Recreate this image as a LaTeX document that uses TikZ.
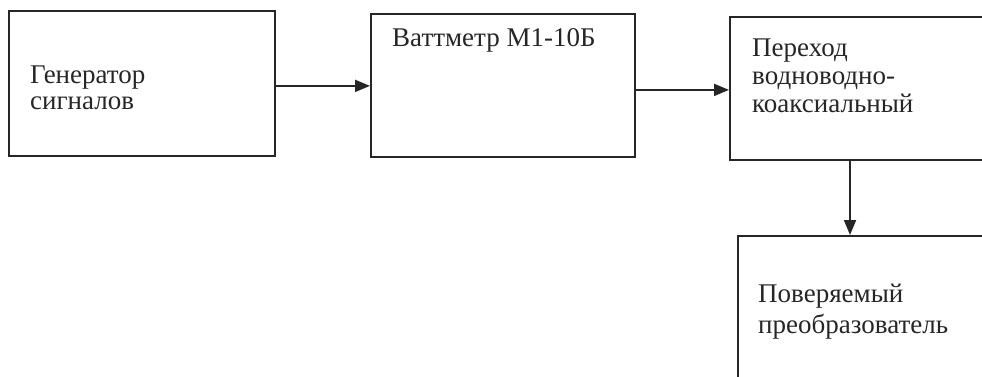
\documentclass[tikz,border=0pt]{standalone}
\usepackage{fontspec}
\setmainfont{Liberation Serif}
\usetikzlibrary{arrows.meta}
\begin{document}
\begin{tikzpicture}[x=1pt,y=-1pt,
  blk/.style={draw=black!85, line width=1.9pt, rectangle, inner sep=0pt},
  lbl/.style={anchor=base west, inner sep=0pt, align=left, font=\fontsize{27}{29}\selectfont, text=black!85},
  arr/.style={draw=black!85, line width=1.9pt, -{Triangle[length=15pt,width=12pt]}}]
\useasboundingbox (0,0) rectangle (982,377);
\clip (0,0) rectangle (982,377);
% boxes
\node[blk, minimum width=266pt, minimum height=145pt, anchor=north west] (gen) at (8,10) {};
\node[blk, minimum width=264pt, minimum height=143pt, anchor=north west] (watt) at (370,13) {};
\node[blk, minimum width=280pt, minimum height=143pt, anchor=north west] (trans) at (729,16) {};
\node[blk, minimum width=270pt, minimum height=170pt, anchor=north west] (dut) at (737,235) {};
% texts
\node[lbl] (tgen) at (30,84) {Генератор};
\node[lbl] (tgen2) at (30,110) {сигналов};
\node[lbl] (twatt) at (392,47) {Ваттметр М1-10Б};
\node[lbl] (ttr1) at (752,57) {Переход};
\node[lbl] (ttr2) at (752,85) {водноводно-};
\node[lbl] (ttr3) at (752,113) {коаксиальный};
\node[lbl] (tdut1) at (758,302) {Поверяемый};
\node[lbl] (tdut2) at (758,333) {преобразователь};
% connectors
\path (gen.south east) ++(0,-71) coordinate (a1);
\draw[arr] (a1) -- (a1 -| watt.west);
\path (watt.south east) ++(0,-68) coordinate (a2);
\draw[arr] (a2) -- (a2 -| trans.west);
\path (trans.south west) ++(121,0) coordinate (a3);
\draw[arr] (a3) -- (a3 |- dut.north);
\end{tikzpicture}
\end{document}
